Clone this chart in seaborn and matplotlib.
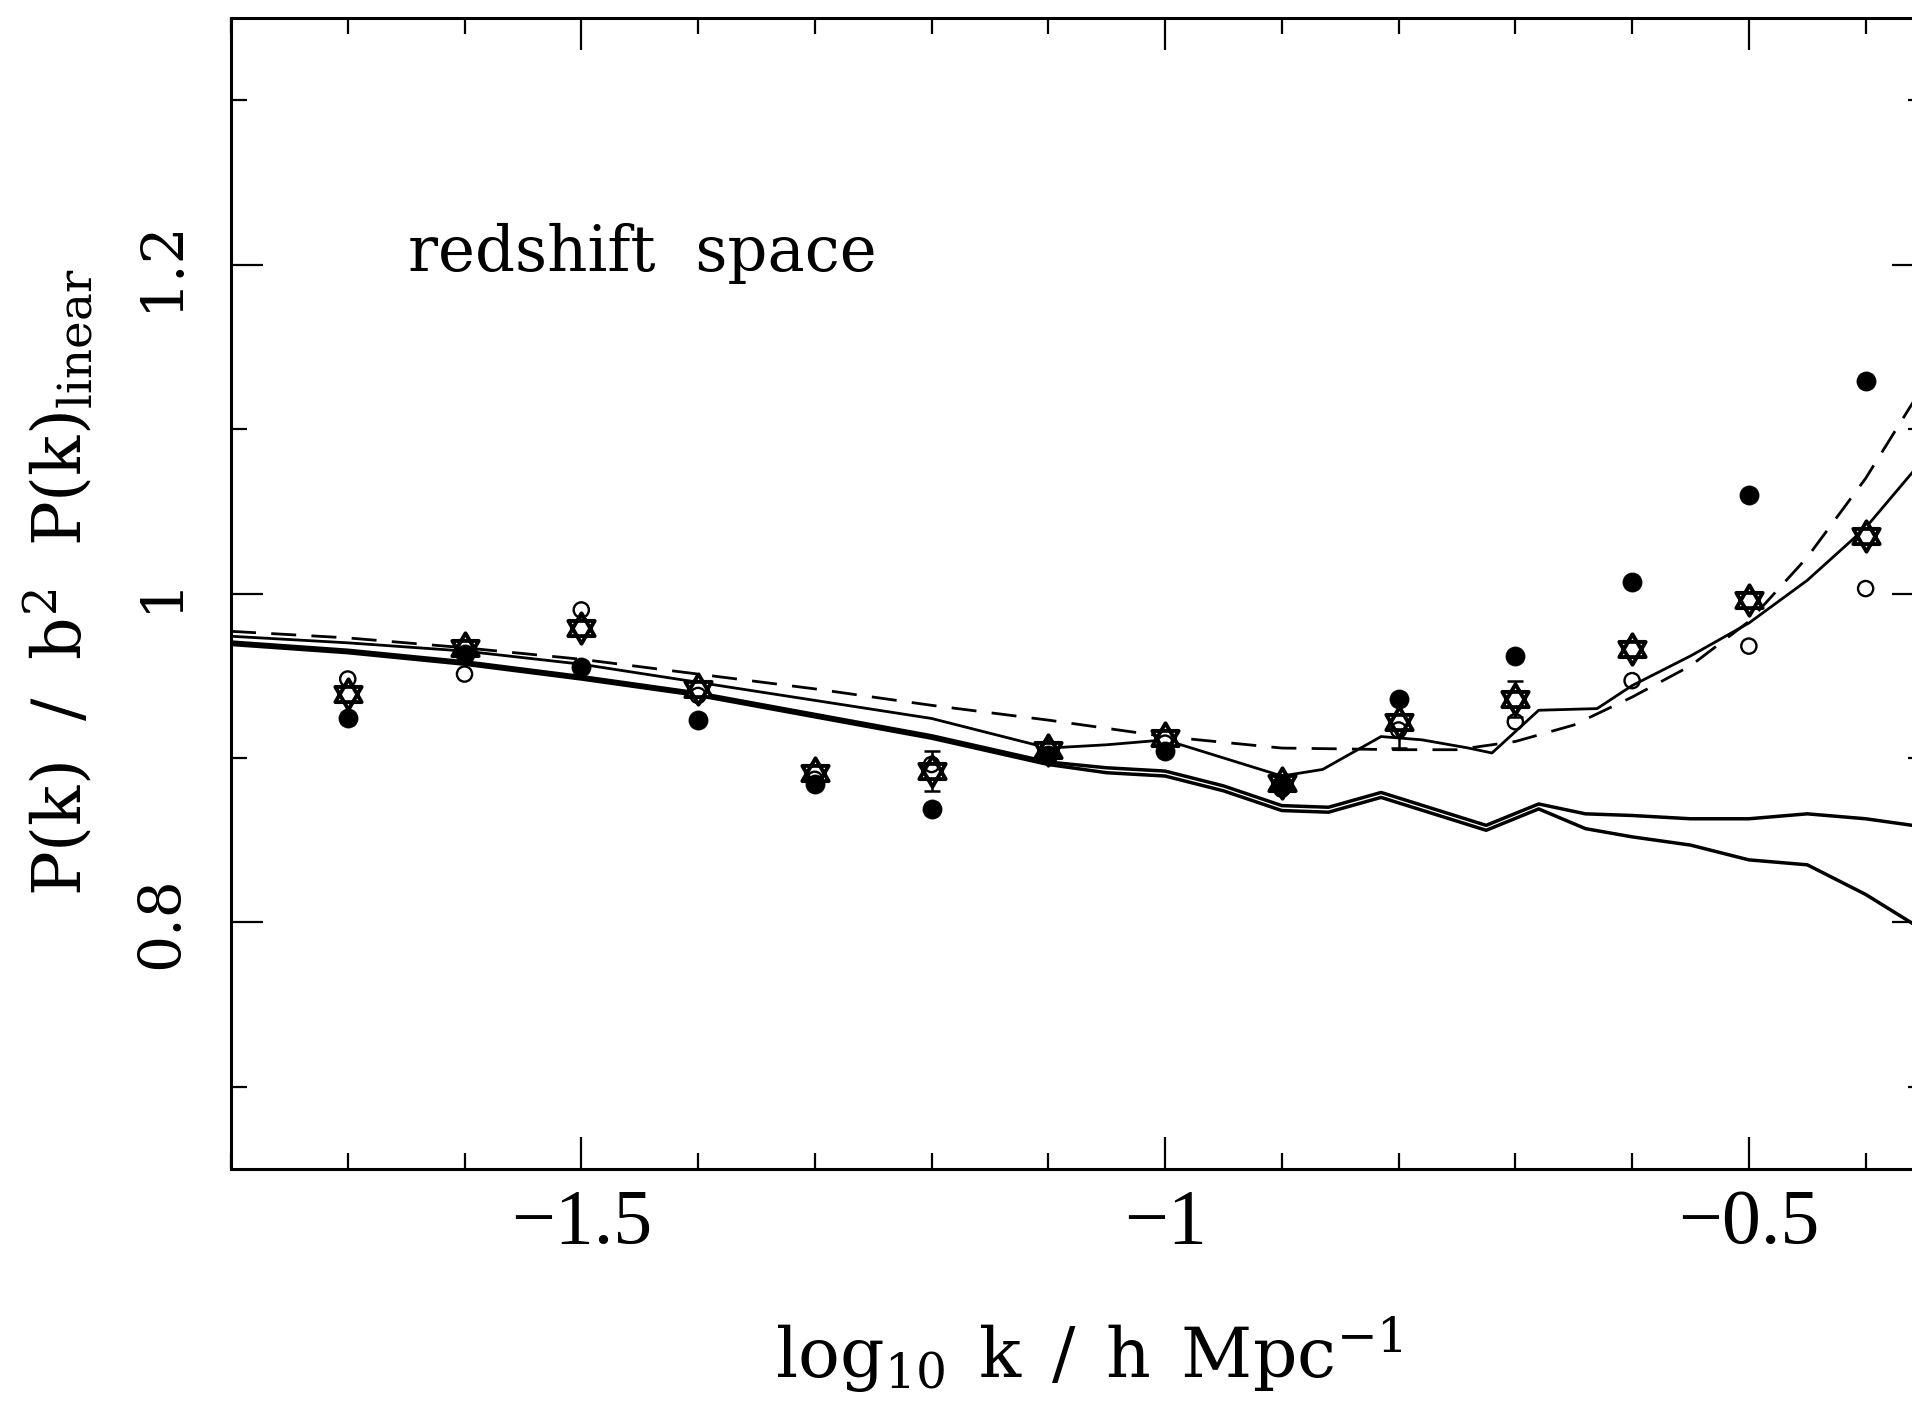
import numpy as np
import pandas as pd
import matplotlib
matplotlib.use("Agg")
import matplotlib.pyplot as plt
import seaborn as sns
from matplotlib.path import Path
from matplotlib.ticker import MultipleLocator

# ---------------- data ----------------
k_pts = [-1.7, -1.6, -1.5, -1.4, -1.3, -1.2, -1.1, -1.0, -0.9, -0.8, -0.7, -0.6, -0.5, -0.4]
filled_pts = [0.924, 0.963, 0.955, 0.923, 0.884, 0.869, 0.902, 0.904, 0.883, 0.936, 0.962, 1.007, 1.060, 1.129]
open_pts = [0.948, 0.951, 0.990, 0.938, 0.887, 0.896, 0.906, 0.909, 0.881, 0.917, 0.922, 0.947, 0.968, 1.003]
star_pts = [0.939, 0.967, 0.979, 0.942, 0.891, 0.892, 0.905, 0.912, 0.885, 0.922, 0.936, 0.966, 0.996, 1.035]
star_err = [0.0, 0.0, 0.0, 0.0, 0.0, 0.012, 0.0, 0.0, 0.0, 0.016, 0.011, 0.0, 0.0, 0.0]

x_real = [-1.8, -1.7, -1.6, -1.5, -1.4, -1.3, -1.2, -1.1, -1.05, -1.0, -0.95, -0.9, -0.86,
          -0.815, -0.77, -0.725, -0.68, -0.64, -0.6, -0.55, -0.5, -0.45, -0.4, -0.35]
real_upper = [0.9705, 0.9655, 0.9585, 0.9495, 0.9395, 0.9265, 0.9135, 0.8975, 0.894, 0.892, 0.883, 0.871, 0.870,
              0.879, 0.869, 0.859, 0.872, 0.866, 0.865, 0.863, 0.863, 0.866, 0.863, 0.858]
real_lower = [0.969, 0.964, 0.957, 0.948, 0.938, 0.925, 0.912, 0.896, 0.891, 0.889, 0.880, 0.868, 0.867,
              0.876, 0.866, 0.856, 0.869, 0.857, 0.852, 0.847, 0.838, 0.835, 0.817, 0.795]

x_zmodel = [-1.8, -1.7, -1.6, -1.5, -1.4, -1.3, -1.2, -1.1, -1.05, -1.0, -0.95, -0.9, -0.865,
            -0.815, -0.78, -0.74, -0.72, -0.68, -0.63, -0.6, -0.55, -0.5, -0.45, -0.4, -0.35]
zmodel = [0.974, 0.970, 0.965, 0.957, 0.946, 0.935, 0.924, 0.906, 0.908, 0.911, 0.900, 0.889, 0.893,
          0.913, 0.911, 0.906, 0.903, 0.929, 0.930, 0.944, 0.962, 0.982, 1.008, 1.040, 1.082]

x_theory = [-1.8, -1.7, -1.6, -1.5, -1.4, -1.3, -1.2, -1.1, -1.0, -0.9, -0.8, -0.75, -0.7,
            -0.65, -0.6, -0.55, -0.5, -0.45, -0.4, -0.35]
theory = [0.977, 0.973, 0.967, 0.960, 0.951, 0.942, 0.932, 0.923, 0.913, 0.906, 0.905, 0.905, 0.910,
          0.920, 0.937, 0.956, 0.983, 1.022, 1.070, 1.127]

x_tick_vals = [-1.5, -1.0, -0.5]
x_tick_labels = ["\u22121.5", "\u22121", "\u22120.5"]
y_tick_vals = [0.8, 1.0, 1.2]
y_tick_labels = ["0.8", "1", "1.2"]

# ---------------- style ----------------
sns.set_style("ticks")
plt.rcParams["font.family"] = ["DejaVu Serif", "DejaVu Sans"]
plt.rcParams["mathtext.fontset"] = "custom"
plt.rcParams["mathtext.rm"] = "Liberation Serif"
plt.rcParams["mathtext.it"] = "Liberation Serif:italic"
plt.rcParams["mathtext.bf"] = "Liberation Serif:bold"
for key in ["text.color", "axes.labelcolor", "xtick.color", "ytick.color", "axes.edgecolor"]:
    plt.rcParams[key] = "black"

W, H = 1912, 1405
fig = plt.figure(figsize=(W / 100, H / 100), dpi=100)
fig.patch.set_facecolor("white")
ax_l, ax_r, ax_t, ax_b = 231, 1924, 18, 1169
ax = fig.add_axes([ax_l / W, (H - ax_b) / H, (ax_r - ax_l) / W, (ax_b - ax_t) / H])
ax.set_facecolor("white")

# ---------------- lines ----------------
df_up = pd.DataFrame({"x": x_real, "y": real_upper})
df_lo = pd.DataFrame({"x": x_real, "y": real_lower})
df_z = pd.DataFrame({"x": x_zmodel, "y": zmodel})
df_t = pd.DataFrame({"x": x_theory, "y": theory})

sns.lineplot(data=df_up, x="x", y="y", ax=ax, color="black", lw=2.5, sort=False, estimator=None, zorder=2)
sns.lineplot(data=df_lo, x="x", y="y", ax=ax, color="black", lw=2.5, sort=False, estimator=None, zorder=2)
sns.lineplot(data=df_z, x="x", y="y", ax=ax, color="black", lw=2.0, sort=False, estimator=None, zorder=2)
sns.lineplot(data=df_t, x="x", y="y", ax=ax, color="black", lw=2.0, sort=False, estimator=None, zorder=2)
ax.lines[-1].set_dashes([9, 5.5])

# ---------------- markers ----------------
star_path = Path(
    [(0, 1), (-0.866, -0.5), (0.866, -0.5), (0, 1),
     (0, -1), (0.866, 0.5), (-0.866, 0.5), (0, -1)],
    [Path.MOVETO, Path.LINETO, Path.LINETO, Path.CLOSEPOLY,
     Path.MOVETO, Path.LINETO, Path.LINETO, Path.CLOSEPOLY])

df_pts = pd.DataFrame({"k": k_pts, "filled": filled_pts, "open": open_pts,
                       "star": star_pts, "err": star_err})

ax.errorbar(df_pts["k"], df_pts["star"], yerr=df_pts["err"], fmt="none", ecolor="black",
            elinewidth=1.8, capsize=6, capthick=1.8, zorder=3)
sns.scatterplot(data=df_pts, x="k", y="star", ax=ax, marker=star_path, s=480,
                facecolor="white", edgecolor="black", linewidth=2.8, zorder=4)
sns.scatterplot(data=df_pts, x="k", y="open", ax=ax, marker="o", s=120,
                facecolor="none", edgecolor="black", linewidth=1.7, zorder=5)
sns.scatterplot(data=df_pts, x="k", y="filled", ax=ax, marker="o", s=190,
                color="black", edgecolor="black", linewidth=0.5, zorder=6)

# ---------------- axes ----------------
ax.set_xlim(-1.8, -0.35)
ax.set_ylim(0.65, 1.35)
ax.set_xticks(x_tick_vals)
ax.set_xticklabels(x_tick_labels, fontfamily="Liberation Serif", fontsize=56)
ax.set_yticks(y_tick_vals)
ax.set_yticklabels(y_tick_labels, fontfamily="DejaVu Serif", fontsize=42, rotation=90, va="center")
ax.xaxis.set_minor_locator(MultipleLocator(0.1))
ax.yaxis.set_minor_locator(MultipleLocator(0.1))
ax.tick_params(which="both", direction="in", top=True, right=True, color="black", width=1.6)
ax.tick_params(which="major", length=23)
ax.tick_params(which="minor", length=11.5)
ax.tick_params(axis="x", which="major", pad=14)
ax.tick_params(axis="y", which="major", pad=30)
for sp in ax.spines.values():
    sp.set_linewidth(2.2)
    sp.set_color("black")

ax.set_xlabel(r"$\mathregular{log_{10}\;\ k\;\ /\;\ h\;\ Mpc^{-1}}$", fontsize=50,
              math_fontfamily="custom")
ax.xaxis.set_label_coords(0.507, -0.126)
ax.set_ylabel(r"$\mathregular{P(k)\;\ /\;\ b^2\;\ P(k)_{linear}}$", fontsize=48,
              math_fontfamily="dejavuserif")
ax.yaxis.set_label_coords(-0.080, 0.510)

ax.text(-1.648, 1.196, "redshift  space", fontsize=45, fontfamily="DejaVu Serif",
        ha="left", va="baseline", color="black")

fig.savefig("out.png", dpi=100, facecolor="white")
